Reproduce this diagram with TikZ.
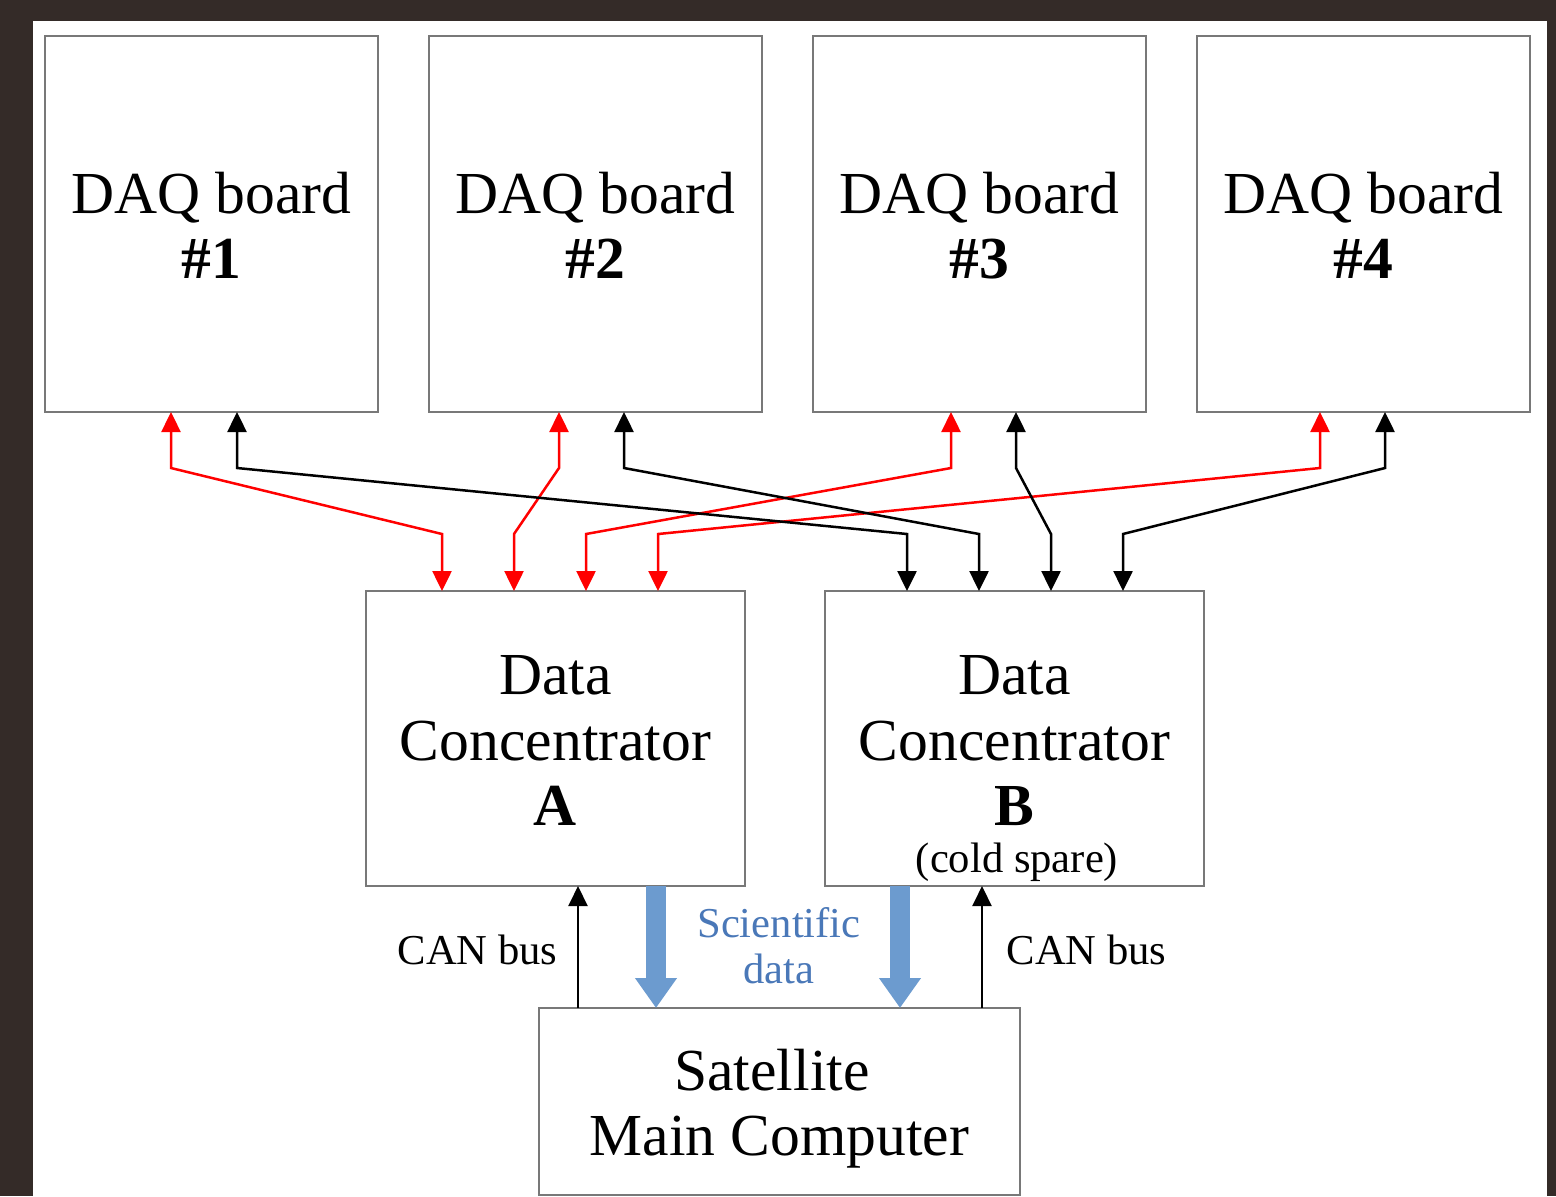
\documentclass[tikz,border=0pt]{standalone}
\usepackage{fontspec}
\setmainfont{Liberation Serif}
\usetikzlibrary{arrows.meta}
\definecolor{bgdark}{RGB}{52,43,40}
\definecolor{boxgray}{RGB}{120,120,120}
\definecolor{sciblue}{RGB}{108,155,207}
\definecolor{scitext}{RGB}{74,120,184}
\tikzset{
  box/.style={draw=boxgray, line width=0.8pt, fill=white, inner sep=0pt, outer sep=0pt},
  big/.style={font=\fontsize{29.8pt}{33pt}\selectfont, inner sep=0pt, anchor=base},
  small/.style={font=\fontsize{21.3pt}{23.5pt}\selectfont, inner sep=0pt, anchor=base},
  conn/.style={line width=1.25pt, line join=miter,
    arrows={Triangle[width=9.5pt,length=10pt]-Triangle[width=9.5pt,length=10pt]}},
  redconn/.style={conn, red},
  blkconn/.style={conn, black},
  canarrow/.style={line width=1.1pt, black, -{Triangle[width=9.5pt,length=10pt]}},
  sciarrow/.style={sciblue, line width=10pt, -{Triangle[width=20pt,length=15pt]}}
}
\begin{document}
\begin{tikzpicture}[x=0.5pt, y=-0.5pt]
% background
\fill[bgdark] (0,0) rectangle (1556,1196);
\fill[white] (33,21) rectangle (1547,1196);
\useasboundingbox (0,0) rectangle (1556,1196);

% DAQ boards
\node[box, minimum width=166.5pt, minimum height=188pt] (daq1) at (211.5,224) {};
\node[box, minimum width=166.5pt, minimum height=188pt] (daq2) at (595.5,224) {};
\node[box, minimum width=166.5pt, minimum height=188pt] (daq3) at (979.5,224) {};
\node[box, minimum width=166.5pt, minimum height=188pt] (daq4) at (1363.5,224) {};
\node[big] (daq1a) at (211.5,213) {DAQ board};
\node[big] (daq1b) at (211.5,278) {\bfseries \#1};
\node[big] (daq2a) at (595.5,213) {DAQ board};
\node[big] (daq2b) at (595.5,278) {\bfseries \#2};
\node[big] (daq3a) at (979.5,213) {DAQ board};
\node[big] (daq3b) at (979.5,278) {\bfseries \#3};
\node[big] (daq4a) at (1363.5,213) {DAQ board};
\node[big] (daq4b) at (1363.5,278) {\bfseries \#4};

% Data concentrators
\node[box, minimum width=189.5pt, minimum height=147.5pt] (dca) at (555.5,738.5) {};
\node[box, minimum width=189.5pt, minimum height=147.5pt] (dcb) at (1014.5,738.5) {};
\node[big] (dcaa) at (555.5,694) {Data};
\node[big] (dcab) at (555.5,760) {Concentrator};
\node[big] (dcac) at (555.5,825) {\bfseries A};
\node[big] (dcba) at (1014.5,694) {Data};
\node[big] (dcbb) at (1014.5,760) {Concentrator};
\node[big] (dcbc) at (1014.5,825) {\bfseries B};
\node[small] (dcbd) at (1017,872) {(cold spare)};

% Satellite main computer
\node[box, minimum width=240.5pt, minimum height=93.5pt] (sat) at (779.5,1101.5) {};
\node[big] (sata) at (772,1090) {Satellite};
\node[big] (satb) at (779.5,1155) {Main Computer};

% red connectors (DAQ <-> DC A)
\draw[redconn] (171,0 |- daq1.south) -- (171,468) -- (442,534) -- (442,0 |- dca.north);
\draw[redconn] (559,0 |- daq2.south) -- (559,468) -- (514,534) -- (514,0 |- dca.north);
\draw[redconn] (951,0 |- daq3.south) -- (951,468) -- (586,534) -- (586,0 |- dca.north);
\draw[redconn] (1320,0 |- daq4.south) -- (1320,468) -- (658,534) -- (658,0 |- dca.north);

% black connectors (DAQ <-> DC B)
\draw[blkconn] (237,0 |- daq1.south) -- (237,468) -- (907,534) -- (907,0 |- dcb.north);
\draw[blkconn] (624,0 |- daq2.south) -- (624,468) -- (979,534) -- (979,0 |- dcb.north);
\draw[blkconn] (1016,0 |- daq3.south) -- (1016,468) -- (1051,534) -- (1051,0 |- dcb.north);
\draw[blkconn] (1385,0 |- daq4.south) -- (1385,468) -- (1123,534) -- (1123,0 |- dcb.north);

% bottom links
\draw[canarrow] (578,0 |- sat.north) -- (578,0 |- dca.south);
\draw[sciarrow] (656,0 |- dca.south) -- (656,0 |- sat.north);
\draw[sciarrow] (900,0 |- dcb.south) -- (900,0 |- sat.north);
\draw[canarrow] (982,0 |- sat.north) -- (982,0 |- dcb.south);

\node[small] (canl) at (477.5,964) {CAN bus};
\node[small] (canr) at (1086.5,964) {CAN bus};
\node[small, text=scitext] (scia) at (779,937) {Scientific};
\node[small, text=scitext] (scib) at (779,983) {data};
\end{tikzpicture}
\end{document}
